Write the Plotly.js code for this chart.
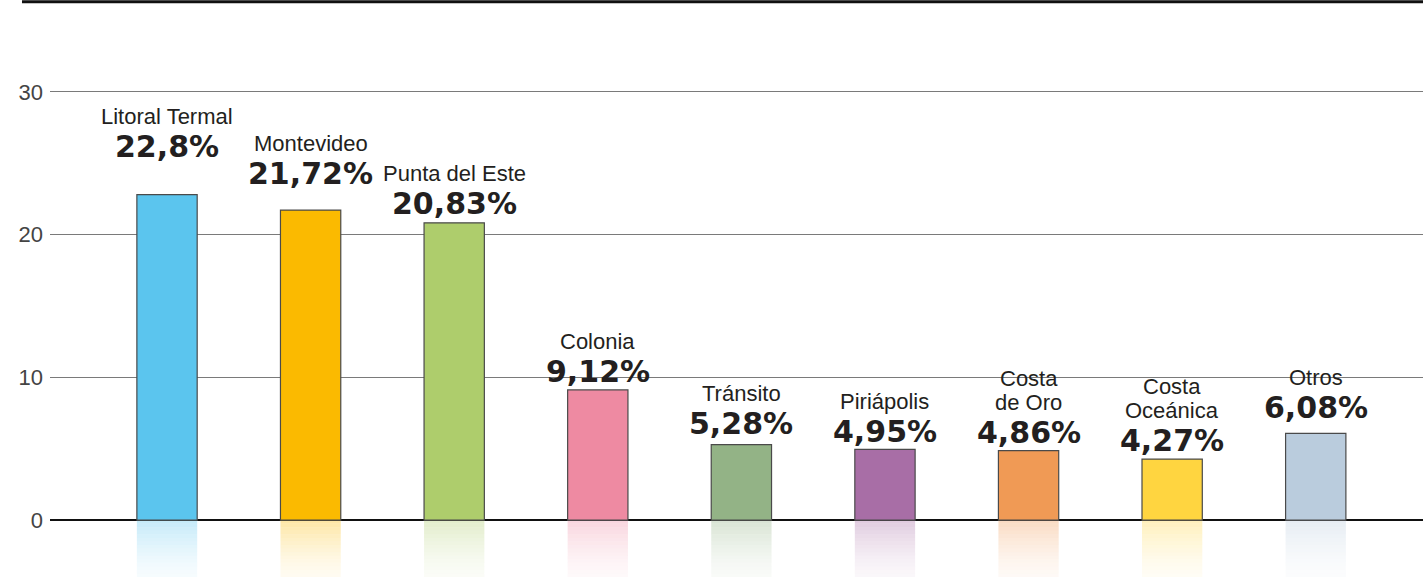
<!DOCTYPE html>
<html>
<head>
<meta charset="utf-8">
<script src="https://cdn.plot.ly/plotly-3.0.1.min.js"></script>
<style>html,body{margin:0;padding:0;background:#fff;}#chart{width:1423px;height:577px;}</style>
</head>
<body>
<div id="chart"></div>
<script>
// ---- data ----
const categories = ["Litoral Termal", "Montevideo", "Punta del Este", "Colonia", "Tránsito", "Piriápolis", "Costa de Oro", "Costa Oceánica", "Otros"];
const nameLabels = ["Litoral Termal", "Montevideo", "Punta del Este", "Colonia", "Tránsito", "Piriápolis", "Costa<br>de Oro", "Costa<br>Oceánica", "Otros"];
const values = [22.8, 21.72, 20.83, 9.12, 5.28, 4.95, 4.86, 4.27, 6.08];
const valueLabels = ["22,8%", "21,72%", "20,83%", "9,12%", "5,28%", "4,95%", "4,86%", "4,27%", "6,08%"];
const yTicks = [0, 10, 20, 30];

// ---- styles ----
const barColors = ["#5BC5EE", "#FBBA00", "#AECD6C", "#EE8AA2", "#93B386", "#A86EA6", "#F09A55", "#FFD540", "#BACCDD"];
const labelGaps = [39, 27, 10, 9, 12, 8, 9, 9, 16]; // px between bar top and value text

function hexToRgba(h, a) {
  const r = parseInt(h.slice(1, 3), 16), g = parseInt(h.slice(3, 5), 16), b = parseInt(h.slice(5, 7), 16);
  return `rgba(${r},${g},${b},${a})`;
}

const traces = [];
// reflection strips below zero
const nStrips = 16, stripH = 4 / nStrips;
for (let k = 0; k < nStrips; k++) {
  const a = 0.05 + 0.3 * Math.pow(1 - k / nStrips, 1.5);
  traces.push({
    type: "bar", x: categories, y: categories.map(() => -stripH), base: categories.map(() => -k * stripH),
    width: 0.42,
    marker: { color: barColors.map(c => hexToRgba(c, a)), line: { width: 0 } },
    hoverinfo: "skip", showlegend: false
  });
}
// main bars
traces.push({
  type: "bar", x: categories, y: values, width: 0.42,
  marker: { color: barColors, line: { color: "#4a4a4a", width: 1.2 } },
  showlegend: false
});

const annotations = [];
categories.forEach((c, i) => {
  annotations.push({
    x: c, y: values[i], xref: "x", yref: "y", yanchor: "bottom", xanchor: "center",
    yshift: labelGaps[i] - 10, showarrow: false, text: "<b>" + valueLabels[i] + "</b>",
    font: { family: "DejaVu Sans", size: 30, color: "#231f20" }
  });
  const lines = nameLabels[i].split("<br>").reverse();
  lines.forEach((ln, j) => {
    annotations.push({
      x: c, y: values[i], xref: "x", yref: "y", yanchor: "bottom", xanchor: "center",
      yshift: labelGaps[i] + 25 + j * 24, showarrow: false, text: ln,
      font: { family: "Liberation Sans", size: 22, color: "#231f20" }
    });
  });
});

const layout = {
  width: 1423, height: 577,
  margin: { l: 50, r: 0, t: 0, b: 0 },
  paper_bgcolor: "#fff", plot_bgcolor: "#fff",
  barmode: "overlay",
  xaxis: { type: "category", range: [-0.815, 8.747], showticklabels: false, showgrid: false, zeroline: false, showline: false, ticks: "" },
  yaxis: {
    range: [-3.99, 36.44], tickvals: yTicks, ticktext: yTicks.map(String),
    showgrid: true, gridcolor: "#7a7a7a", gridwidth: 1,
    zeroline: true, zerolinecolor: "#111", zerolinewidth: 1.6,
    ticks: "", ticklabelstandoff: 6,
    tickfont: { family: "Liberation Sans Narrow, Liberation Sans", size: 22, color: "#444" }
  },
  shapes: [{ type: "line", xref: "paper", yref: "paper", x0: -0.0204, x1: 1, y0: 0.997, y1: 0.997, line: { color: "#111", width: 3 } }],
  annotations: annotations
};

Plotly.newPlot("chart", traces, layout, { displayModeBar: false, staticPlot: true });
</script>
</body>
</html>
